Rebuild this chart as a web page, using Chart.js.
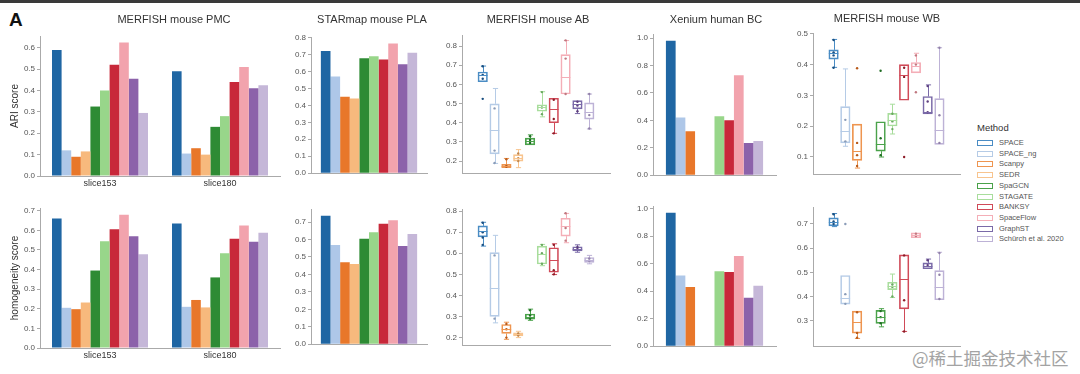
<!DOCTYPE html>
<html><head><meta charset="utf-8">
<script src="https://cdn.jsdelivr.net/npm/chart.js@4.4.1/dist/chart.umd.min.js"></script>
<style>
html,body{margin:0;padding:0;background:#fff;}
body{width:1080px;height:374px;position:relative;overflow:hidden;font-family:"Liberation Sans",Arial,sans-serif;}
canvas{position:absolute;}
#topbar{position:absolute;left:0;top:0;width:1080px;height:3px;background:#3a3a3a;}
#panelA{position:absolute;left:9px;top:9px;font-size:19px;font-weight:bold;color:#111;}
.ptitle{position:absolute;font-size:11px;color:#333;white-space:nowrap;transform:translate(-50%,-50%);}
#legend{position:absolute;left:976px;top:122px;}
#legend .lt{position:absolute;left:1px;top:0;font-size:9.5px;color:#333;white-space:nowrap;}
#legend .it{position:absolute;left:0;height:10px;white-space:nowrap;}
#legend .pt{position:absolute;left:1px;top:2px;width:14px;height:4px;border:1.3px solid;background:#fff;}
#legend .tx{position:absolute;left:23px;top:0;font-size:7.5px;line-height:10px;color:#555;}
#wm{position:absolute;left:912px;top:345px;font-family:"Noto Sans CJK SC",sans-serif;font-size:17.5px;color:#a3a3a3;white-space:nowrap;}
</style></head><body>
<div id="topbar"></div>
<div id="panelA">A</div>
<div id="wm">@稀土掘金技术社区</div>
<div id="legend"></div>
<script>
// ---------------- DATA ----------------
const methods = ['SPACE','SPACE_ng','Scanpy','SEDR','SpaGCN','STAGATE','BANKSY','SpaceFlow','GraphST','Schürch et al. 2020'];
const panelTitles = ['MERFISH mouse PMC','STARmap mouse PLA','MERFISH mouse AB','Xenium human BC','MERFISH mouse WB'];
const pmcSlices = ['slice153','slice180'];

// MERFISH mouse PMC (bars)
const pmcAri153 = [0.59,0.12,0.09,0.115,0.325,0.40,0.52,0.625,0.455,0.295];
const pmcAri180 = [0.49,0.105,0.13,0.10,0.23,0.28,0.44,0.51,0.41,0.425];
const pmcHom153 = [0.66,0.205,0.198,0.232,0.395,0.545,0.605,0.68,0.57,0.478];
const pmcHom180 = [0.635,0.21,0.245,0.207,0.36,0.483,0.557,0.625,0.542,0.588];
// STARmap mouse PLA (bars)
const starmapAri = [0.72,0.57,0.45,0.44,0.678,0.69,0.67,0.765,0.643,0.71];
const starmapHom = [0.737,0.568,0.47,0.46,0.604,0.642,0.69,0.71,0.563,0.632];
// Xenium human BC (bars)
const xeniumAri = [0.98,0.42,0.32,null,null,0.43,0.40,0.73,0.235,0.25];
const xeniumHom = [0.97,0.515,0.43,null,null,0.546,0.54,0.656,0.353,0.44];

// MERFISH mouse AB (box plots) [whisker low, q1, median, q3, whisker high]
const abAriBox = [[0.614,0.614,0.648,0.665,0.696],[0.188,0.238,0.362,0.499,0.579],[0.166,0.166,0.175,0.183,0.214],[0.166,0.2,0.217,0.234,0.26],[0.285,0.285,0.303,0.32,0.337],[0.431,0.46,0.482,0.494,0.562],[0.345,0.40,0.47,0.528,0.528],[0.55,0.55,0.641,0.756,0.829],[0.448,0.473,0.5,0.516,0.516],[0.368,0.419,0.456,0.504,0.55]];
const abAriPts = [[0.695,0.65,0.63,0.525],[0.475,0.255,0.19],[0.21,0.175,0.17],[0.24,0.215,0.2],[0.33,0.31,0.295],[0.56,0.48,0.445],[0.52,0.42,0.345],[0.83,0.735,0.55],[0.51,0.49,0.46],[0.55,0.44,0.37]];
const abHomBox = [[0.634,0.678,0.704,0.730,0.747],[0.27,0.301,0.437,0.603,0.685],[0.192,0.22,0.242,0.262,0.273],[0.2,0.208,0.215,0.223,0.23],[0.282,0.288,0.30,0.312,0.335],[0.541,0.549,0.595,0.634,0.642],[0.499,0.51,0.567,0.626,0.645],[0.65,0.681,0.727,0.766,0.789],[0.605,0.611,0.622,0.631,0.64],[0.55,0.557,0.567,0.58,0.59]];
const abHomPts = [[0.745,0.7,0.675,0.64],[0.59,0.29],[0.265,0.24,0.2],[0.22,0.21],[0.33,0.305,0.29],[0.64,0.6,0.55],[0.64,0.52,0.5],[0.79,0.72,0.66],[0.63,0.62],[0.575,0.565]];

// MERFISH mouse WB (box plots)
const wbAriBox = [[0.391,0.418,0.439,0.448,0.482],[0.134,0.145,0.184,0.263,0.386],[0.063,0.088,0.12,0.206,0.206],null,[0.099,0.118,0.143,0.214,0.214],[0.174,0.2,0.22,0.241,0.271],[0.284,0.284,0.366,0.40,0.40],[0.373,0.373,0.396,0.407,0.437],[0.239,0.239,0.245,0.296,0.334],[0.14,0.14,0.188,0.289,0.455]];
const wbAriPts = [[0.48,0.44,0.43,0.39],[0.22,0.15],[0.388,0.145,0.105,0.07],null,[0.38,0.16,0.105],[0.24,0.215,0.19],[0.39,0.36,0.099],[0.43,0.4,0.31],[0.33,0.28,0.245],[0.455,0.235,0.145]];
const wbHomBox = [[0.689,0.692,0.709,0.725,0.743],[0.369,0.369,0.396,0.487,0.487],[0.227,0.249,0.293,0.34,0.34],null,[0.275,0.289,0.316,0.343,0.35],[0.396,0.429,0.445,0.459,0.493],[0.256,0.349,0.473,0.572,0.572],[0.643,0.643,0.653,0.663,0.663],[0.515,0.515,0.528,0.539,0.555],[0.387,0.387,0.441,0.507,0.583]];
const wbHomPts = [[0.74,0.71,0.7],[0.70,0.41,0.37],[0.335,0.25,0.23],null,[0.34,0.315,0.29],[0.45,0.44,0.4],[0.57,0.385,0.256],[0.66,0.65],[0.55,0.53],[0.58,0.49,0.39]];

// tick labels
const ticksPmcAri = [0,0.1,0.2,0.3,0.4,0.5,0.6];
const ticksPmcHom = [0,0.1,0.2,0.3,0.4,0.5,0.6,0.7];
const ticksStarAri = [0,0.1,0.2,0.3,0.4,0.5,0.6,0.7,0.8];
const ticksStarHom = [0,0.1,0.2,0.3,0.4,0.5,0.6,0.7];
const ticksAb = [0.2,0.3,0.4,0.5,0.6,0.7,0.8];
const ticksXen = [0,0.2,0.4,0.6,0.8,1.0];
const ticksWbAri = [0.1,0.2,0.3,0.4,0.5];
const ticksWbHom = [0.3,0.4,0.5,0.6,0.7];

// ---------------- STYLE ----------------
const methodColors = ['#1f66a3','#aec7e8','#e8772a','#f7b97d','#2e8b34','#98d68a','#c8283a','#f2a3ad','#8c62aa','#c5b7d8'];
const boxColors = ['#4a8cc4','#b5cbe6','#ee9550','#f8c48e','#4aa24a','#a8dd9c','#d04a58','#f4aeb7','#7a6aa8','#bdb2d6'];
const pointColors = ['#1a4f80','#8a9cb8','#b85a1a','#c08850','#1e6b22','#6aa860','#8e1c28','#c07880','#5e3f7e','#9080a8'];

Chart.defaults.font.family = '"Liberation Sans", Arial, sans-serif';
Chart.defaults.animation = false;

const boxPlugin = {
  id: 'boxWhisk',
  beforeDatasetsDraw(chart) {
    const ds = chart.data.datasets.find(d => d.boxStats);
    if (!ds) return;
    const {ctx, scales: {x, y}} = chart;
    ctx.save(); ctx.lineWidth = 1;
    ds.boxStats.forEach((s, i) => {
      if (!s) return;
      const px = Math.round(x.getPixelForValue(i)) + 0.5;
      const hw = (x.getPixelForValue(i + 0.22) - x.getPixelForValue(i));
      ctx.strokeStyle = boxColors[i];
      ctx.beginPath();
      const yl = y.getPixelForValue(s[0]), y1 = y.getPixelForValue(s[1]);
      const y3 = y.getPixelForValue(s[3]), yh = y.getPixelForValue(s[4]);
      ctx.moveTo(px, yl); ctx.lineTo(px, y1);
      ctx.moveTo(px, y3); ctx.lineTo(px, yh);
      if (s[0] < s[1]) { ctx.moveTo(px - hw, yl); ctx.lineTo(px + hw, yl); }
      if (s[4] > s[3]) { ctx.moveTo(px - hw, yh); ctx.lineTo(px + hw, yh); }
      ctx.stroke();
    });
    ctx.restore();
  },
  afterDatasetsDraw(chart) {
    const ds = chart.data.datasets.find(d => d.boxStats);
    if (!ds) return;
    const {ctx, scales: {x, y}} = chart;
    ctx.save(); ctx.lineWidth = 1;
    ds.boxStats.forEach((s, i) => {
      if (!s) return;
      const px = x.getPixelForValue(i);
      const hw = ds.barThickness / 2;
      const ym = Math.round(y.getPixelForValue(s[2])) + 0.5;
      ctx.strokeStyle = boxColors[i];
      ctx.beginPath(); ctx.moveTo(px - hw, ym); ctx.lineTo(px + hw, ym); ctx.stroke();
    });
    ctx.restore();
  }
};
Chart.register(boxPlugin);

function makeCanvas(plotL, plotR, plotT, plotB, yw, xh, ctop) {
  const c = document.createElement('canvas');
  const w = plotR - plotL + yw + 2;
  const h = plotB - ctop + xh;
  c.width = w; c.height = h;
  c.style.left = (plotL - yw) + 'px';
  c.style.top = ctop + 'px';
  c.style.width = w + 'px'; c.style.height = h + 'px';
  document.body.appendChild(c);
  return {c, padTop: plotT - ctop};
}

function yScale(min, max, ticks, yw, title) {
  return {
    min, max,
    afterBuildTicks: s => { s.ticks = ticks.map(v => ({value: v})); },
    afterFit: s => { s.width = yw; },
    ticks: {font: {size: 8}, color: '#555', padding: 2, autoSkip: false, callback: v => Number(v).toFixed(1)},
    grid: {display: true, drawOnChartArea: false, drawTicks: true, tickLength: 3, color: '#aaa'},
    border: {display: true, color: '#aaa', width: 1},
    title: title ? {display: true, text: title, font: {size: 10}, color: '#333', padding: {top: 9, bottom: 0}} : {display: false}
  };
}

function baseOptions(padTop, xScale, yS) {
  return {
    responsive: false, animation: false, devicePixelRatio: 1,
    layout: {padding: {top: padTop, right: 2, bottom: 0, left: 0}},
    plugins: {legend: {display: false}, tooltip: {enabled: false}, title: {display: false}},
    scales: {x: xScale, y: yS}
  };
}

function barChart(geo, labels, perMethod, yMin, yMax, ticks, ytitle, catPct, showX) {
  const {c, padTop} = makeCanvas(...geo);
  const xh = geo[5];
  const xScale = {
    type: 'category',
    afterFit: s => { s.height = xh; },
    ticks: {display: showX, font: {size: 9}, color: '#333', padding: 2},
    grid: {display: false, drawTicks: false},
    border: {display: true, color: '#aaa', width: 1}
  };
  new Chart(c, {
    type: 'bar',
    data: {
      labels,
      datasets: methods.map((m, i) => ({
        label: m, data: perMethod[i], backgroundColor: methodColors[i],
        borderWidth: 0, categoryPercentage: catPct, barPercentage: 1
      }))
    },
    options: baseOptions(padTop, xScale, yScale(yMin, yMax, ticks, geo[4], ytitle))
  });
}

function boxChart(geo, stats, pts, yMin, yMax, ticks) {
  const {c, padTop} = makeCanvas(...geo);
  const xh = geo[5];
  const xScale = {
    type: 'linear', min: -1.75, max: 10.75, offset: false,
    afterFit: s => { s.height = xh; },
    ticks: {display: false},
    grid: {display: false, drawTicks: false},
    border: {display: true, color: '#aaa', width: 1}
  };
  const boxData = [], boxCols = [];
  stats.forEach((s, i) => { if (s) { boxData.push({x: i, y: [s[1], s[3]]}); boxCols.push(boxColors[i]); } });
  const ptData = [], ptCols = [];
  pts.forEach((arr, i) => { (arr || []).forEach(v => { ptData.push({x: i, y: v}); ptCols.push(pointColors[i]); }); });
  new Chart(c, {
    type: 'bar',
    data: {
      datasets: [
        {type: 'scatter', data: ptData, pointRadius: 1.2, pointBackgroundColor: ptCols, pointBorderWidth: 0, order: 0},
        {type: 'bar', data: boxData, boxStats: stats, backgroundColor: 'rgba(255,255,255,0)',
         borderColor: boxCols, borderWidth: 1, borderSkipped: false, barThickness: 9.5, grouped: false, order: 1}
      ]
    },
    options: baseOptions(padTop, xScale, yScale(yMin, yMax, ticks, geo[4], null))
  });
}

// geometry: [plotLeft, plotRight, plotTop, plotBottom, yAxisWidth, xAxisHeight, canvasTop]
const pmcPerMethodAri = methods.map((m, i) => [pmcAri153[i], pmcAri180[i]]);
const pmcPerMethodHom = methods.map((m, i) => [pmcHom153[i], pmcHom180[i]]);
barChart([40, 280, 36, 176, 40, 14, 0], pmcSlices, pmcPerMethodAri, 0, 0.655, ticksPmcAri, 'ARI score', 0.8, true);
barChart([40, 280, 208, 348, 40, 14, 190], pmcSlices, pmcPerMethodHom, 0, 0.714, ticksPmcHom, 'homogeneity score', 0.8, true);

barChart([311, 427, 37, 176, 25, 4, 0], [''], methods.map((m, i) => [starmapAri[i]]), 0, 0.803, ticksStarAri, null, 0.83, false);
barChart([311, 427, 209, 347, 25, 4, 190], [''], methods.map((m, i) => [starmapHom[i]]), 0, 0.775, ticksStarHom, null, 0.83, false);

boxChart([462, 612, 35, 176, 25, 4, 0], abAriBox, abAriPts, 0.137, 0.858, ticksAb);
boxChart([462, 612, 209, 348, 25, 4, 190], abHomBox, abHomPts, 0.164, 0.81, ticksAb);

barChart([653, 776, 34, 178, 25, 4, 0], [''], methods.map((m, i) => [xeniumAri[i]]), 0, 1.03, ticksXen, null, 0.79, false);
barChart([653, 776, 206, 349, 25, 4, 190], [''], methods.map((m, i) => [xeniumHom[i]]), 0, 1.02, ticksXen, null, 0.79, false);

boxChart([813, 962, 33, 177, 25, 4, 0], wbAriBox, wbAriPts, 0.043, 0.503, ticksWbAri);
boxChart([813, 962, 207, 349, 25, 4, 190], wbHomBox, wbHomPts, 0.195, 0.77, ticksWbHom);

// panel titles
const titlePos = [[174, 19], [372, 19], [538, 19], [716, 19], [887, 18]];
panelTitles.forEach((t, i) => {
  const d = document.createElement('div');
  d.className = 'ptitle'; d.textContent = t;
  d.style.left = titlePos[i][0] + 'px'; d.style.top = titlePos[i][1] + 'px';
  document.body.appendChild(d);
});

// legend
const lg = document.getElementById('legend');
const lt = document.createElement('div'); lt.className = 'lt'; lt.textContent = 'Method'; lg.appendChild(lt);
methods.forEach((m, i) => {
  const it = document.createElement('div'); it.className = 'it';
  it.style.top = (16 + i * 10.7) + 'px';
  const p = document.createElement('div'); p.className = 'pt'; p.style.borderColor = boxColors[i];
  const tx = document.createElement('div'); tx.className = 'tx'; tx.textContent = m;
  it.appendChild(p); it.appendChild(tx); lg.appendChild(it);
});
</script>
</body></html>
